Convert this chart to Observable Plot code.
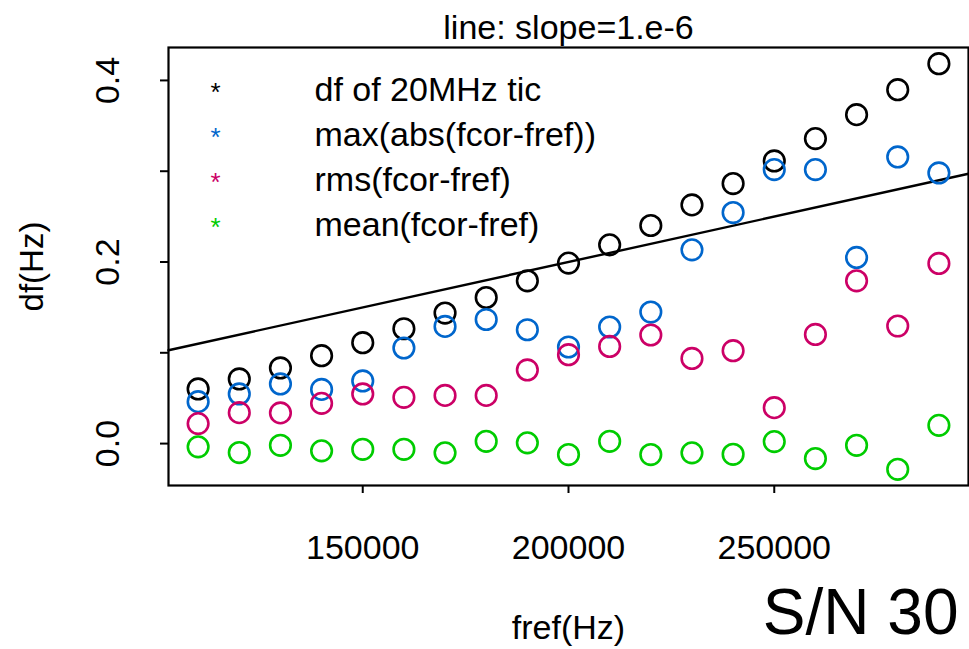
<!DOCTYPE html>
<html>
<head>
<meta charset="utf-8">
<script src="https://cdn.jsdelivr.net/npm/d3@7"></script>
<script src="https://cdn.jsdelivr.net/npm/@observablehq/plot@0.6"></script>
<style>
  html, body { margin: 0; padding: 0; background: #fff; }
  #chart svg { display: block; }
</style>
</head>
<body>
<div id="chart"></div>
<script>
const fref = [110000,120000,130000,140000,150000,160000,170000,180000,190000,200000,210000,220000,230000,240000,250000,260000,270000,280000,290000];
const dfTic = [0.0602,0.0712,0.0833,0.0968,0.1111,0.1265,0.1438,0.1609,0.1793,0.1988,0.2189,0.2402,0.2629,0.2864,0.3113,0.3359,0.3623,0.3898,0.4184];
const maxAbs = [0.0462,0.0547,0.0657,0.0597,0.0690,0.1053,0.1291,0.1367,0.1254,0.1064,0.1284,0.1449,0.2134,0.2545,0.3018,0.3018,0.2050,0.3157,0.2981];
const rmsVals = [0.0220,0.0341,0.0338,0.0443,0.0547,0.0509,0.0531,0.0531,0.0811,0.0979,0.1070,0.1196,0.0938,0.1023,0.0396,0.1202,0.1793,0.1295,0.1984];
const meanVals = [-0.0036,-0.0099,-0.0019,-0.0080,-0.0063,-0.0063,-0.0102,0.0025,0.0008,-0.0121,0.0025,-0.0121,-0.0102,-0.0118,0.0022,-0.0165,-0.0019,-0.0283,0.0201];

const seriesNames = ["df of 20MHz tic","max(abs(fcor-fref))","rms(fcor-fref)","mean(fcor-fref)"];
const seriesColors = ["#000000","#0066CC","#CC0066","#00CC00"];
const seriesValues = [dfTic, maxAbs, rmsVals, meanVals];

const slope = 1e-6;
const titleText = "line: slope=1.e-6";
const xLabel = "fref(Hz)";
const yLabel = "df(Hz)";
const cornerText = "S/N 30";
const xTicks = [150000, 200000, 250000];
const yTicks = [0.0, 0.1, 0.2, 0.3, 0.4];
const yTickLabels = [0.0, 0.2, 0.4];

// R-style 4% axis extension
function rRange(vals) {
  const [a, b] = d3.extent(vals);
  const e = (b - a) * 0.04;
  return [a - e, b + e];
}
const xDomain = rRange(fref);
const yDomain = rRange(seriesValues.flat());

const points = [];
seriesValues.forEach((vals, s) => vals.forEach((v, i) => points.push({x: fref[i], y: v, s})));

const lineData = xDomain.map(x => ({x, y: slope * x}));

const FONT = "'Liberation Sans', Arial, Helvetica, sans-serif";
const FS = 34;

const marks = [
  Plot.line(lineData, {x: "x", y: "y", stroke: "black", strokeWidth: 2.4}),
  ...seriesValues.map((vals, s) =>
    Plot.dot(points.filter(p => p.s === s), {x: "x", y: "y", r: 10.3, stroke: seriesColors[s], strokeWidth: 2.6, fill: "none"})
  ),
  Plot.frame({stroke: "black", strokeWidth: 2.2}),
  Plot.axisX({ticks: xTicks, tickSize: 8, tickFormat: () => "", label: null, strokeWidth: 2}),
  Plot.axisY({ticks: yTicks, tickSize: 8, tickFormat: () => "", label: null, strokeWidth: 2}),
  Plot.text(xTicks, {x: d => d, frameAnchor: "bottom", dy: 63, lineAnchor: "middle", textAnchor: "middle", text: d => String(d), fontSize: FS, fill: "black"}),
  Plot.text(yTickLabels, {y: d => d, frameAnchor: "left", dx: -60, rotate: -90, lineAnchor: "middle", textAnchor: "middle", text: d => d.toFixed(1), fontSize: FS, fill: "black"}),
  Plot.text([titleText], {frameAnchor: "top", dy: -19, lineAnchor: "middle", textAnchor: "middle", text: d => d, fontSize: FS, fill: "black"}),
  Plot.text([xLabel], {frameAnchor: "bottom", dy: 143, lineAnchor: "middle", textAnchor: "middle", text: d => d, fontSize: FS, fill: "black"}),
  Plot.text([yLabel], {frameAnchor: "left", dx: -136, rotate: -90, lineAnchor: "middle", textAnchor: "middle", text: d => d, fontSize: FS - 1, fill: "black"}),
  Plot.text([cornerText], {frameAnchor: "bottom-right", dx: -10, dy: 148, lineAnchor: "bottom", textAnchor: "end", text: d => d, fontSize: 64, fill: "black"}),
  ...seriesNames.map((name, i) =>
    Plot.text([name], {frameAnchor: "top-left", dx: 146, dy: 43 + 45 * i, lineAnchor: "middle", textAnchor: "start", text: d => d, fontSize: FS, fill: "black"})
  ),
  ...seriesNames.map((name, i) =>
    Plot.text(["*"], {frameAnchor: "top-left", dx: 47, dy: 45 + 45 * i, lineAnchor: "middle", textAnchor: "middle", text: d => d, fontSize: 26, fill: seriesColors[i]})
  )
];

const chart = Plot.plot({
  width: 969,
  height: 649,
  marginLeft: 168,
  marginRight: 1,
  marginTop: 47,
  marginBottom: 164,
  style: {fontFamily: FONT, background: "white", color: "black"},
  x: {domain: xDomain},
  y: {domain: yDomain},
  marks
});
document.getElementById("chart").appendChild(chart);
</script>
</body>
</html>
